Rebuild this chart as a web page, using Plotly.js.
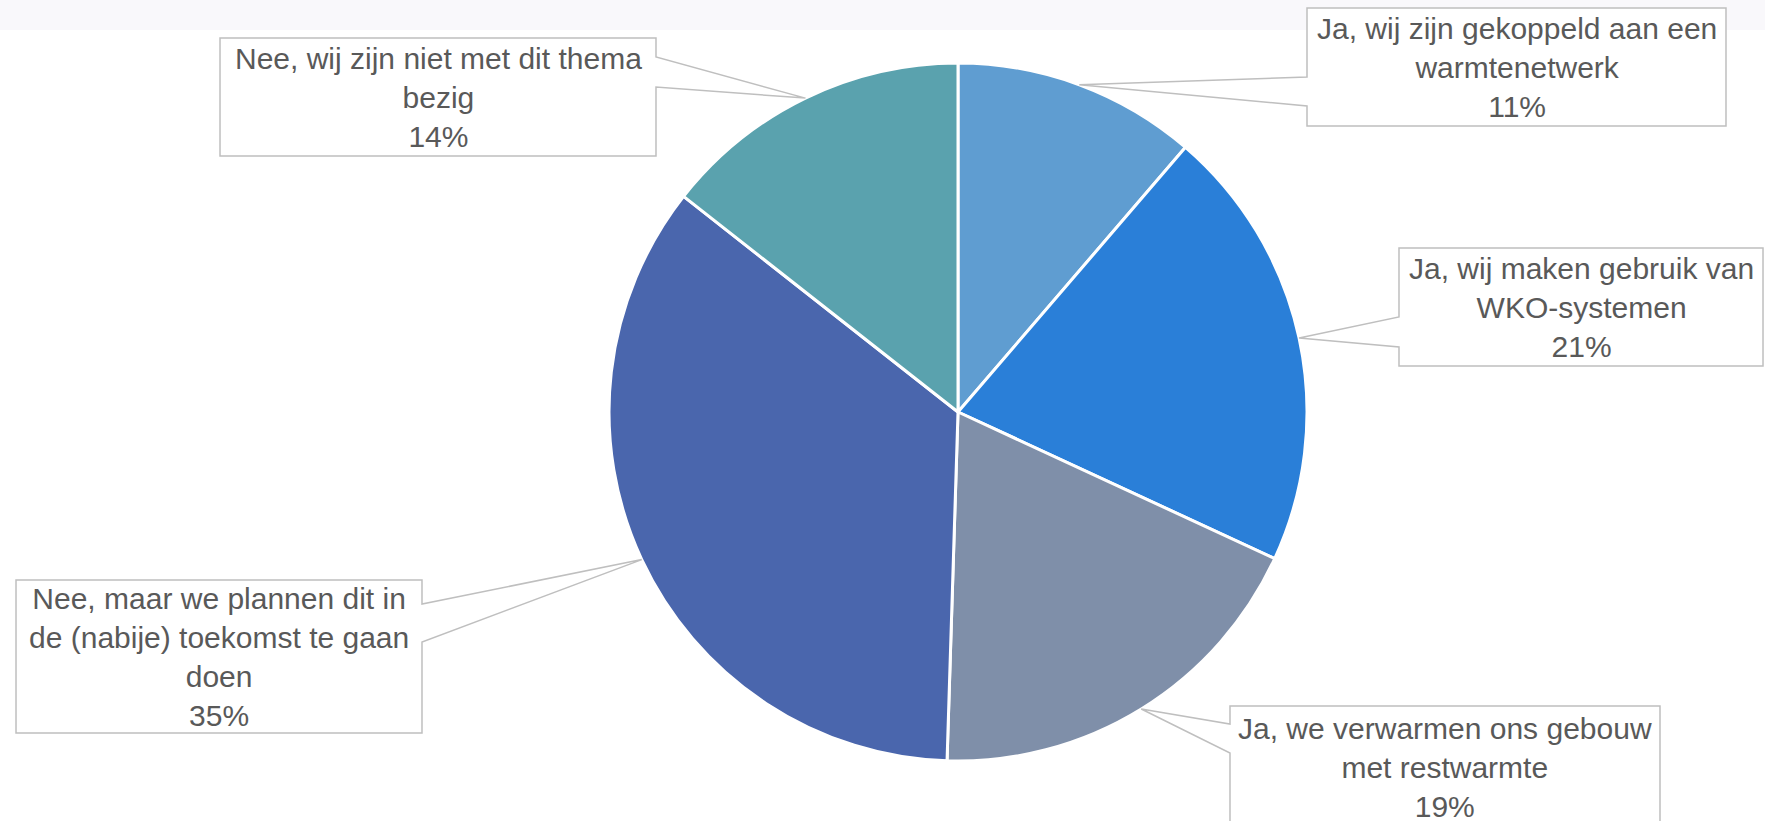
<!DOCTYPE html>
<html>
<head>
<meta charset="utf-8">
<script src="https://cdn.plot.ly/plotly-3.0.1.min.js"></script>
<style>html,body{margin:0;padding:0;background:#fff;}#chart{width:1765px;height:821px;}</style>
</head>
<body>
<div id="chart"></div>
<script>
// ---- data ----
const categories = [
  "Ja, wij zijn gekoppeld aan een warmtenetwerk",
  "Ja, wij maken gebruik van WKO-systemen",
  "Ja, we verwarmen ons gebouw met restwarmte",
  "Nee, maar we plannen dit in de (nabije) toekomst te gaan doen",
  "Nee, wij zijn niet met dit thema bezig"
];
const labelLines = [
  ["Ja, wij zijn gekoppeld aan een", "warmtenetwerk"],
  ["Ja, wij maken gebruik van", "WKO-systemen"],
  ["Ja, we verwarmen ons gebouw", "met restwarmte"],
  ["Nee, maar we plannen dit in", "de (nabije) toekomst te gaan", "doen"],
  ["Nee, wij zijn niet met dit thema", "bezig"]
];
// shares (labels show them rounded)
const values = [11.3, 20.6, 18.6, 35.1, 14.4];

// ---- style / layout ----
const colors = ["#5f9dd1", "#2a7fd8", "#7f8fa9", "#4a66ad", "#5aa2ae"];
const W = 1765, H = 821;
const pieCx = 958, pieCy = 412, pieR = 349;
// callout boxes in pixel coords: box rect, side where the tail leaves, tail attach y's
const callouts = [
  {x0:1307, y0:8,   x1:1726, y1:126, side:"left",  a0:77,  a1:106},
  {x0:1399, y0:248, x1:1763, y1:366, side:"left",  a0:317, a1:347},
  {x0:1230, y0:706, x1:1660, y1:828, side:"left",  a0:724, a1:753},
  {x0:16,   y0:580, x1:422,  y1:733, side:"right", a0:604, a1:642},
  {x0:220,  y0:38,  x1:656,  y1:156, side:"right", a0:57,  a1:87}
];

const px = x => x / W;
const py = y => 1 - y / H;

const total = values.reduce((a, b) => a + b, 0);
const shapes = [{
  type: "rect", xref: "paper", yref: "paper", x0: 0, x1: 1, y0: py(30), y1: 1,
  fillcolor: "#f9f8fb", line: {width: 0}, layer: "below"
}];
const annotations = [];
let cum = 0;
values.forEach((v, i) => {
  const theta = 2 * Math.PI * (cum + v / 2) / total;
  cum += v;
  const tx = pieCx + pieR * Math.sin(theta);
  const ty = pieCy - pieR * Math.cos(theta);
  const c = callouts[i];
  let pts;
  if (c.side === "left") {
    pts = [[c.x0, c.y0], [c.x1, c.y0], [c.x1, c.y1], [c.x0, c.y1], [c.x0, c.a1], [tx, ty], [c.x0, c.a0]];
  } else {
    pts = [[c.x0, c.y0], [c.x1, c.y0], [c.x1, c.a0], [tx, ty], [c.x1, c.a1], [c.x1, c.y1], [c.x0, c.y1]];
  }
  const path = "M" + pts.map(p => px(p[0]).toFixed(5) + "," + py(p[1]).toFixed(5)).join(" L") + " Z";
  shapes.push({
    type: "path", xref: "paper", yref: "paper", path: path,
    fillcolor: "#ffffff", line: {color: "#bfbfbf", width: 1.5}, layer: "above"
  });
  const pct = Math.round(v / total * 100) + "%";
  annotations.push({
    xref: "paper", yref: "paper",
    x: px((c.x0 + c.x1) / 2), y: py((c.y0 + c.y1) / 2),
    xanchor: "center", yanchor: "middle", showarrow: false, align: "center",
    text: labelLines[i].concat([pct]).join("<br>"),
    font: {family: "Liberation Sans, Arial, sans-serif", size: 30, color: "#595959"}
  });
});

const trace = {
  type: "pie",
  labels: categories,
  values: values,
  sort: false,
  direction: "clockwise",
  rotation: 0,
  textinfo: "none",
  hoverinfo: "label+percent",
  marker: {colors: colors, line: {color: "#ffffff", width: 3}},
  domain: {x: [px(pieCx - pieR), px(pieCx + pieR)], y: [py(pieCy + pieR), py(pieCy - pieR)]}
};

const layout = {
  width: W, height: H,
  margin: {l: 0, r: 0, t: 0, b: 0},
  paper_bgcolor: "#ffffff",
  showlegend: false,
  shapes: shapes,
  annotations: annotations
};

Plotly.newPlot("chart", [trace], layout, {displayModeBar: false, staticPlot: true});
</script>
</body>
</html>
